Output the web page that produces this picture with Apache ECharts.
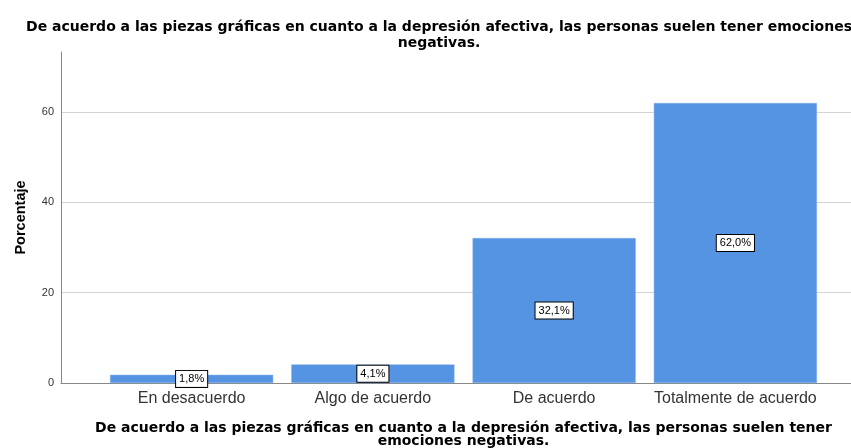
<!DOCTYPE html>
<html><head><meta charset="utf-8">
<script src="https://cdn.jsdelivr.net/npm/echarts@6/dist/echarts.min.js"></script>
<style>html,body{margin:0;padding:0;background:#fff}#c{width:851px;height:448px}</style>
</head><body><div id="c"></div>
<script>
const categories = ['En desacuerdo', 'Algo de acuerdo', 'De acuerdo', 'Totalmente de acuerdo'];
const values = [1.8, 4.1, 32.1, 62.0];
const yTicks = [0, 20, 40, 60];
const titleText = 'De acuerdo a las piezas gráficas en cuanto a la depresión afectiva, las personas suelen tener emociones\nnegativas.';
const xName = 'De acuerdo a las piezas gráficas en cuanto a la depresión afectiva, las personas suelen tener\nemociones negativas.';
const yName = 'Porcentaje';

const FONT = '"Liberation Sans", Arial, sans-serif';
const BOLDFONT = '"DejaVu Sans", "Liberation Sans", sans-serif';
const YMAX = 73.3;
const chart = echarts.init(document.getElementById('c'));
chart.setOption({
  animation: false,
  textStyle: { fontFamily: FONT },
  title: {
    text: titleText, left: 434, textAlign: 'center', top: 15,
    textStyle: { fontFamily: BOLDFONT, fontSize: 14, fontWeight: 'bold', color: '#000', lineHeight: 15.5 }
  },
  grid: [
    { left: 61, right: 0, top: 52, bottom: 65, outerBoundsMode: 'none', containLabel: false },
    { left: 101, right: 25, top: 52, bottom: 65, outerBoundsMode: 'none', containLabel: false }
  ],
  xAxis: [
    { gridIndex: 0, type: 'value', min: 0, max: 1, show: true,
      axisLine: { show: true, onZero: false, lineStyle: { color: '#888', width: 1 } },
      axisTick: { show: false }, axisLabel: { show: false }, splitLine: { show: false } },
    { gridIndex: 1, type: 'category', data: categories,
      axisLine: { show: false }, axisTick: { show: false },
      axisLabel: { color: '#333', fontSize: 16, margin: 8, interval: 0, fontFamily: FONT },
      name: xName, nameLocation: 'middle', nameGap: 39,
      nameTextStyle: { fontFamily: BOLDFONT, fontSize: 14, fontWeight: 'bold', color: '#000', lineHeight: 13 } }
  ],
  yAxis: [
    { gridIndex: 0, type: 'value', min: 0, max: YMAX,
      axisLine: { show: true, lineStyle: { color: '#888', width: 1 } },
      axisTick: { show: false, customValues: yTicks },
      axisLabel: { color: '#333', fontSize: 11, margin: 7, fontFamily: FONT, customValues: yTicks },
      splitLine: { show: true, lineStyle: { color: '#d4d4d4', width: 1 } },
      name: yName, nameLocation: 'middle', nameGap: 33,
      nameTextStyle: { fontFamily: FONT, fontSize: 14.5, fontWeight: 'bold', color: '#000' } },
    { gridIndex: 1, type: 'value', min: 0, max: YMAX, show: false, splitLine: { show: false } }
  ],
  series: [{
    type: 'bar', xAxisIndex: 1, yAxisIndex: 1, data: values,
    barCategoryGap: '10%',
    itemStyle: { color: '#5594e2', borderColor: '#7aaae8', borderWidth: 0.5 },
    label: {
      show: true, position: 'inside',
      formatter: p => p.value.toFixed(1).replace('.', ',') + '%',
      fontFamily: FONT, fontSize: 11, color: '#000',
      backgroundColor: '#fff', borderColor: '#000', borderWidth: 1,
      padding: [3, 3, 2, 3]
    }
  }]
});
</script></body></html>
